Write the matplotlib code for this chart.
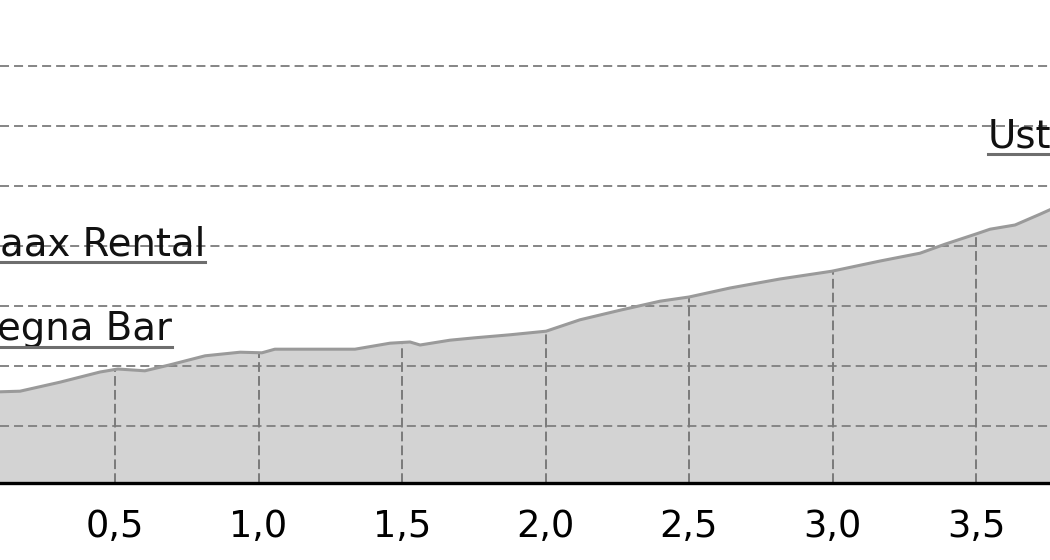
import matplotlib
matplotlib.use("Agg")
import matplotlib.pyplot as plt
import numpy as np
from matplotlib.lines import Line2D

plt.rcParams['lines.scale_dashes'] = False
plt.rcParams['font.family'] = ['DejaVu Sans']

# distance (km) and elevation (arbitrary units, grid every 10)
dist = [0.0, 0.099, 0.169, 0.308, 0.448, 0.510, 0.604, 0.692, 0.814, 0.936, 1.012,
        1.057, 1.336, 1.458, 1.528, 1.563, 1.667, 1.754, 1.876, 2.002, 2.120, 2.260,
        2.399, 2.500, 2.643, 2.817, 2.998, 3.166, 3.305, 3.392, 3.500, 3.549, 3.636,
        3.723, 3.793, 3.85]
elev = [15.0, 15.7, 15.8, 17.3, 19.0, 19.5, 19.2, 20.2, 21.7, 22.3, 22.2,
        22.8, 22.8, 23.8, 24.0, 23.5, 24.3, 24.7, 25.2, 25.8, 27.7, 29.3,
        30.8, 31.5, 33.0, 34.5, 35.8, 37.5, 38.8, 40.3, 42.0, 42.8, 43.5,
        45.3, 46.8, 48.0]

xticks = [0.5, 1.0, 1.5, 2.0, 2.5, 3.0, 3.5]
xtick_labels = ["0,5", "1,0", "1,5", "2,0", "2,5", "3,0", "3,5"]
ygrid = [10, 20, 30, 40, 50, 60, 70]

labels = ["aax Rental", "egna Bar", "Ust"]
label_x = [0.814, 0.699, 3.542]
label_y = [38.5, 24.3, 56.5]
label_ha = ["right", "right", "left"]

W, H = 1050, 560
fig = plt.figure(figsize=(W / 100, H / 100), dpi=100)
bottom_px = 483
ax = fig.add_axes([0, 1 - bottom_px / H, 1, bottom_px / H])
x0_px = -28.5
px_per_unit = 287.0
ax.set_xlim((0 - x0_px) / px_per_unit, (W - x0_px) / px_per_unit)
# y: 60 px per 10 units, gridline 10 at py 426
ax.set_ylim(10 - (bottom_px - 426) / 6.0, 10 + 426 / 6.0)

ax.fill_between(dist, elev, ax.get_ylim()[0], color='#d3d3d3', lw=0, zorder=1)
ax.plot(dist, elev, color='#9a9a9a', lw=2.2, zorder=4)

for g in ygrid:
    ax.axhline(g, color='#858585', lw=1.4, dashes=(6.5, 3.6), zorder=2)
for t in xticks:
    top = np.interp(t, dist, elev)
    ax.vlines(t, ax.get_ylim()[0], top, color='#7a7a7a', lw=1.4,
              linestyles=(0, (7.0, 3.0)), zorder=2)

for s in ['top', 'left', 'right']:
    ax.spines[s].set_visible(False)
ax.spines['bottom'].set_linewidth(2.4)
ax.spines['bottom'].set_color('black')
ax.spines['bottom'].set_zorder(5)
ax.set_yticks([])
ax.set_xticks(xticks)
ax.set_xticklabels(xtick_labels, fontsize=26.5)
ax.tick_params(axis='x', length=0, pad=18)

texts = []
for s, lx, ly, ha in zip(labels, label_x, label_y, label_ha):
    t = ax.text(lx, ly, s, fontsize=27.8, ha=ha, va='baseline', color='#111111', zorder=6)
    texts.append(t)

fig.canvas.draw()
r = fig.canvas.get_renderer()
for t in texts:
    bb = t.get_window_extent(r)
    yline = (bb.y0 + 1) / H
    ln = Line2D([bb.x0 / W, bb.x1 / W], [yline, yline], transform=fig.transFigure,
                color='#6e6e6e', lw=2.2, zorder=7)
    fig.add_artist(ln)

fig.savefig('out.png', dpi=100)
